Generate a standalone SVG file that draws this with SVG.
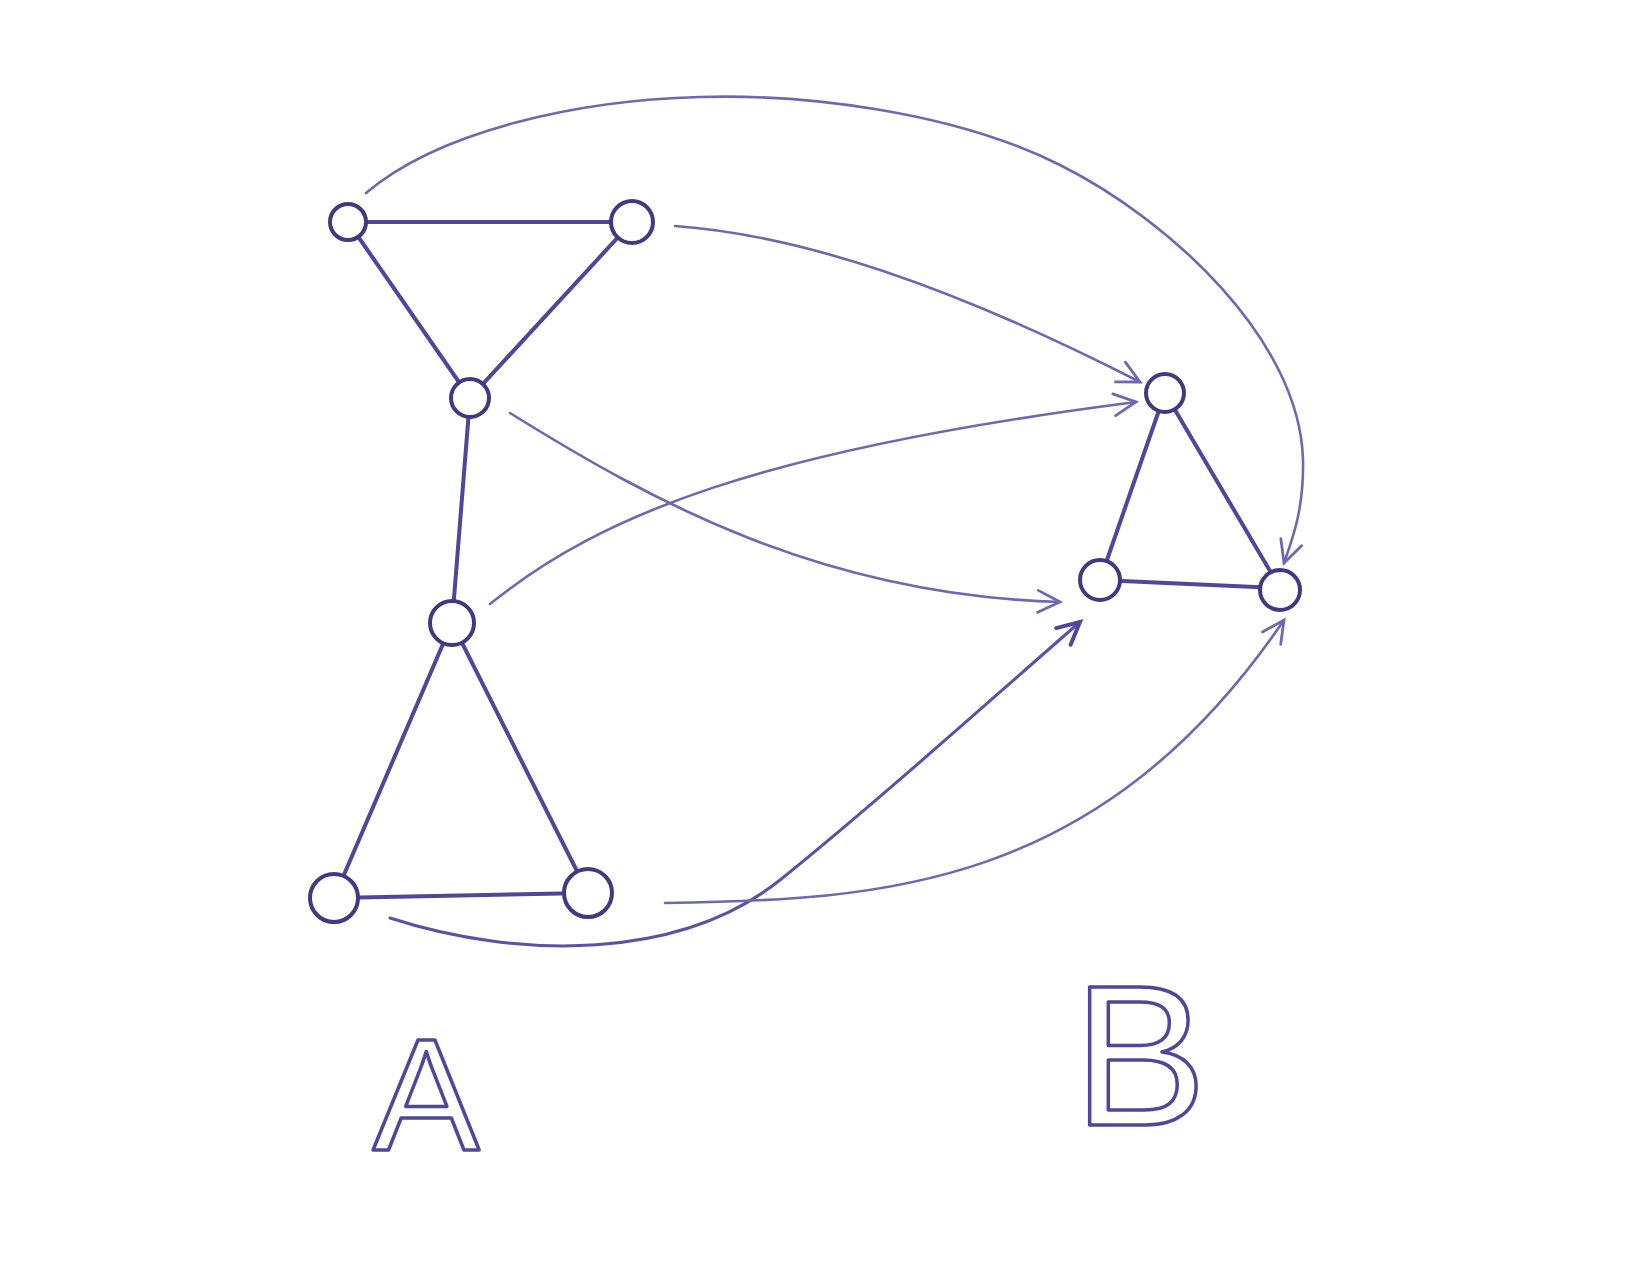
<svg xmlns="http://www.w3.org/2000/svg" width="1650" height="1275" viewBox="0 0 1650 1275">
<style>
.edge{stroke:#4f4799;stroke-width:4;stroke-linecap:round;fill:none}
.curve{stroke:#6e68b0;stroke-width:2.6;stroke-linecap:round;fill:none}
.node{fill:#ffffff;stroke:#42397f;stroke-width:4}
.lbl{font-family:"Liberation Sans",Arial,sans-serif;fill:none;stroke:#4f4799;stroke-width:3.5;stroke-linejoin:round}
</style>
<defs>
<marker id="arr" viewBox="-26 -15 30 30" markerWidth="30" markerHeight="30" refX="0" refY="0" orient="auto" markerUnits="userSpaceOnUse">
<path d="M -22 -11 L 0 0 L -22 11" fill="none" stroke="#6e68b0" stroke-width="2.8" stroke-linecap="round"/>
</marker>
<marker id="arrb" viewBox="-26 -15 30 30" markerWidth="30" markerHeight="30" refX="0" refY="0" orient="auto" markerUnits="userSpaceOnUse">
<path d="M -22 -11 L 0 0 L -22 11" fill="none" stroke="#4f4799" stroke-width="4" stroke-linecap="round"/>
</marker>
</defs>
<rect width="1650" height="1275" fill="#ffffff"/>
<g id="connectors">
<line class="edge" x1="348" y1="222" x2="632" y2="222"/>
<line class="edge" x1="348" y1="222" x2="470" y2="398"/>
<line class="edge" x1="632" y1="222" x2="470" y2="398"/>
<line class="edge" x1="470" y1="398" x2="452" y2="623"/>
<line class="edge" x1="452" y1="623" x2="334" y2="898"/>
<line class="edge" x1="452" y1="623" x2="588" y2="893"/>
<line class="edge" x1="334" y1="898" x2="588" y2="893"/>
<line class="edge" x1="1165" y1="393" x2="1100" y2="580"/>
<line class="edge" x1="1165" y1="393" x2="1280" y2="588"/>
<line class="edge" x1="1100" y1="580" x2="1280" y2="588"/>
<path class="curve" marker-end="url(#arr)" d="M 366 193 C 440 130 580 100 700 97 C 800 94 950 110 1060 165 C 1170 220 1300 340 1303 460 C 1304 510 1292 540 1284 563"/>
<path class="curve" marker-end="url(#arr)" d="M 675 226 C 800 235 950 285 1140 382"/>
<path class="curve" marker-end="url(#arr)" d="M 490 604 C 600 515 760 450 1136 402"/>
<path class="curve" marker-end="url(#arr)" d="M 510 413 C 650 500 820 595 1060 602"/>
<path class="curve" style="stroke:#5a52a4;stroke-width:3" marker-end="url(#arrb)" d="M 390 918 C 520 960 680 960 780 880 C 880 800 990 700 1080 622"/>
<path class="curve" marker-end="url(#arr)" d="M 665 903 C 880 900 1100 890 1284 620"/>
</g>
<g id="A1"><circle class="node" cx="348" cy="222" r="18"/></g>
<g id="A2"><circle class="node" cx="632" cy="222" r="21"/></g>
<g id="A3"><circle class="node" cx="470" cy="398" r="19"/></g>
<g id="A4"><circle class="node" cx="452" cy="623" r="22"/></g>
<g id="A5"><circle class="node" cx="334" cy="898" r="24"/></g>
<g id="A6"><circle class="node" cx="588" cy="893" r="24"/></g>
<g id="B1"><circle class="node" cx="1165" cy="393" r="19"/></g>
<g id="B2"><circle class="node" cx="1100" cy="580" r="20"/></g>
<g id="B3"><circle class="node" cx="1280" cy="590" r="20"/></g>
<g id="labels">
<text class="lbl" x="426" y="1150" font-size="160" text-anchor="middle">A</text>
<text class="lbl" x="1140" y="1125" font-size="200" text-anchor="middle">B</text>
</g>
</svg>
